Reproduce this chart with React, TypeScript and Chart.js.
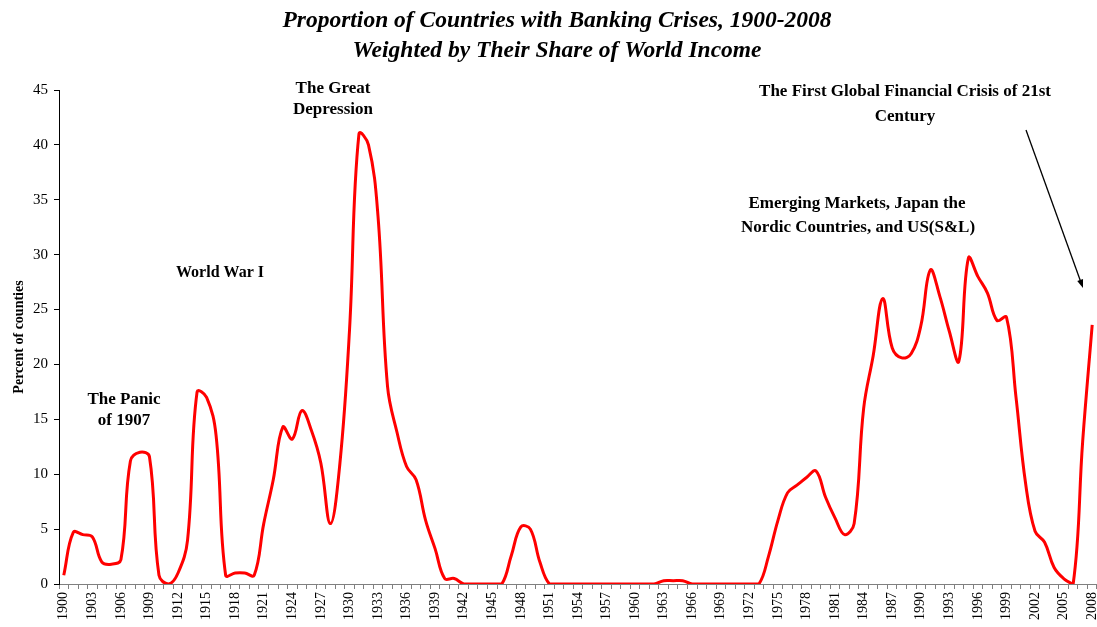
import React, { useEffect, useRef } from "react";
import { Chart, registerables } from "chart.js";

Chart.register(...registerables);

// Categories: years 1900-2008
const years: string[] = [];
for (let y = 1900; y <= 2008; y++) years.push(String(y));

// Percent of countries in banking crisis (weighted by share of world income)
const share1900s = [0.8, 4.7, 4.5, 4.3, 2.0, 1.8, 2.2, 11.2, 12.0, 11.6];
const share1910s = [0.8, 0.0, 1.0, 4.0, 17.5, 17.0, 13.5, 0.8, 1.0, 1.0];
const share1920s = [0.8, 5.5, 9.5, 14.3, 13.2, 15.8, 14.0, 11.0, 5.5, 11.0];
const share1930s = [23.0, 41.0, 40.0, 33.5, 18.0, 13.8, 10.7, 9.5, 5.8, 3.2];
const share1940s = [0.5, 0.5, 0, 0, 0, 0, 0, 2.6, 5.2, 5.0];
const share1950s = [2.0, 0, 0, 0, 0, 0, 0, 0, 0, 0];
const share1960s = [0, 0, 0, 0.3, 0.3, 0.3, 0, 0, 0, 0];
const share1970s = [0, 0, 0, 0, 2.5, 5.8, 8.3, 9.0, 9.7, 10.3];
const share1980s = [7.9, 6.0, 4.5, 5.5, 16.0, 20.8, 26.0, 21.5, 20.6, 21.0];
const share1990s = [23.5, 28.6, 26.2, 23.0, 20.3, 29.7, 28.0, 26.5, 24.0, 24.3];
const share2000s = [17.0, 9.2, 4.8, 3.8, 1.5, 0.5, 0, 13.0, 23.6];

const crisisShare = [
  ...share1900s, ...share1910s, ...share1920s, ...share1930s, ...share1940s,
  ...share1950s, ...share1960s, ...share1970s, ...share1980s, ...share1990s, ...share2000s,
];

const titleLines = [
  "Proportion of Countries with Banking Crises, 1900-2008",
  "Weighted by Their Share of World Income",
];
const yAxisTitle = "Percent of counties";
const noteText = [
  ["The Panic", "of 1907"],
  ["World War I"],
  ["The Great", "Depression"],
  ["Emerging Markets, Japan the", "Nordic Countries, and US(S&L)"],
  ["The First Global Financial Crisis of 21st", "Century"],
];

// layout of notes (pixel centres, font size)
const notePos = [
  [[124, 400], [124, 421]],
  [[220, 273]],
  [[333, 89], [333, 110]],
  [[857, 204], [858, 228]],
  [[905, 92], [905, 117]],
];
const noteSize = [17, 16, 17, 17, 17];

const overlayPlugin = {
  id: "overlay",
  afterDraw(chart: any) {
    const ctx = chart.ctx as CanvasRenderingContext2D;
    ctx.save();
    ctx.fillStyle = "#000";
    ctx.textAlign = "center";
    ctx.textBaseline = "middle";
    ctx.font = "italic bold 23.5px 'Liberation Serif'";
    ctx.fillText(titleLines[0], 557, 21);
    ctx.fillText(titleLines[1], 557, 51);

    noteText.forEach((lines, i) => {
      ctx.font = `bold ${noteSize[i]}px 'Liberation Serif'`;
      lines.forEach((t, j) => {
        const [x, y] = notePos[i][j];
        ctx.fillText(t, x, y);
      });
    });

    // arrow
    const x1 = 1026, y1 = 130, x2 = 1083, y2 = 288;
    ctx.strokeStyle = "#000";
    ctx.lineWidth = 1.3;
    const ang = Math.atan2(y2 - y1, x2 - x1);
    const hl = 9;
    ctx.beginPath();
    ctx.moveTo(x1, y1);
    ctx.lineTo(x2 - Math.cos(ang) * hl * 0.8, y2 - Math.sin(ang) * hl * 0.8);
    ctx.stroke();
    ctx.beginPath();
    ctx.moveTo(x2, y2);
    ctx.lineTo(x2 - hl * Math.cos(ang - 0.35), y2 - hl * Math.sin(ang - 0.35));
    ctx.lineTo(x2 - hl * Math.cos(ang + 0.35), y2 - hl * Math.sin(ang + 0.35));
    ctx.closePath();
    ctx.fillStyle = "#000";
    ctx.fill();
    ctx.restore();
  },
};

export default function App() {
  const ref = useRef<HTMLCanvasElement | null>(null);
  useEffect(() => {
    if (!ref.current) return;
    const chart = new Chart(ref.current, {
      type: "line",
      data: {
        labels: years,
        datasets: [
          {
            data: crisisShare,
            borderColor: "#ff0000",
            borderWidth: 3,
            pointRadius: 0,
            tension: 0.4,
            fill: false,
          },
        ],
      },
      options: {
        responsive: false,
        animation: false,
        devicePixelRatio: 1,
        layout: { padding: { top: 90, left: 0, right: 0, bottom: 0 } },
        plugins: { legend: { display: false }, title: { display: false }, tooltip: { enabled: false } },
        scales: {
          x: {
            type: "category",
            offset: true,
            grid: { offset: true, drawOnChartArea: false, drawTicks: true, tickLength: 5, color: "#808080" },
            border: { color: "#808080", width: 1 },
            ticks: {
              autoSkip: false,
              maxRotation: 90,
              minRotation: 90,
              padding: 3,
              color: "#000",
              font: { family: "'Liberation Serif'", size: 14 },
              callback: (_v: any, i: number) => (i % 3 === 0 ? years[i] : ""),
            },
            afterFit: (s: any) => { s.height = 43; },
          },
          y: {
            min: 0,
            max: 45,
            grid: { drawOnChartArea: false, drawTicks: true, tickLength: 5, color: "#000" },
            border: { color: "#000", width: 1 },
            ticks: {
              stepSize: 5,
              padding: 6,
              color: "#000",
              font: { family: "'Liberation Serif'", size: 15 },
            },
            title: {
              display: true,
              text: yAxisTitle,
              color: "#000",
              font: { family: "'Liberation Serif'", size: 14, weight: "bold" },
              padding: { top: 11, bottom: 0 },
            },
            afterFit: (s: any) => { s.width = 59; },
          },
        },
      },
      plugins: [overlayPlugin],
    });
    return () => chart.destroy();
  }, []);
  return (
    <div style={{ position: "fixed", left: 0, top: 0, width: 1097, height: 627, background: "#fff", overflow: "hidden" }}>
      <canvas ref={ref} width={1112} height={627} />
    </div>
  );
}
